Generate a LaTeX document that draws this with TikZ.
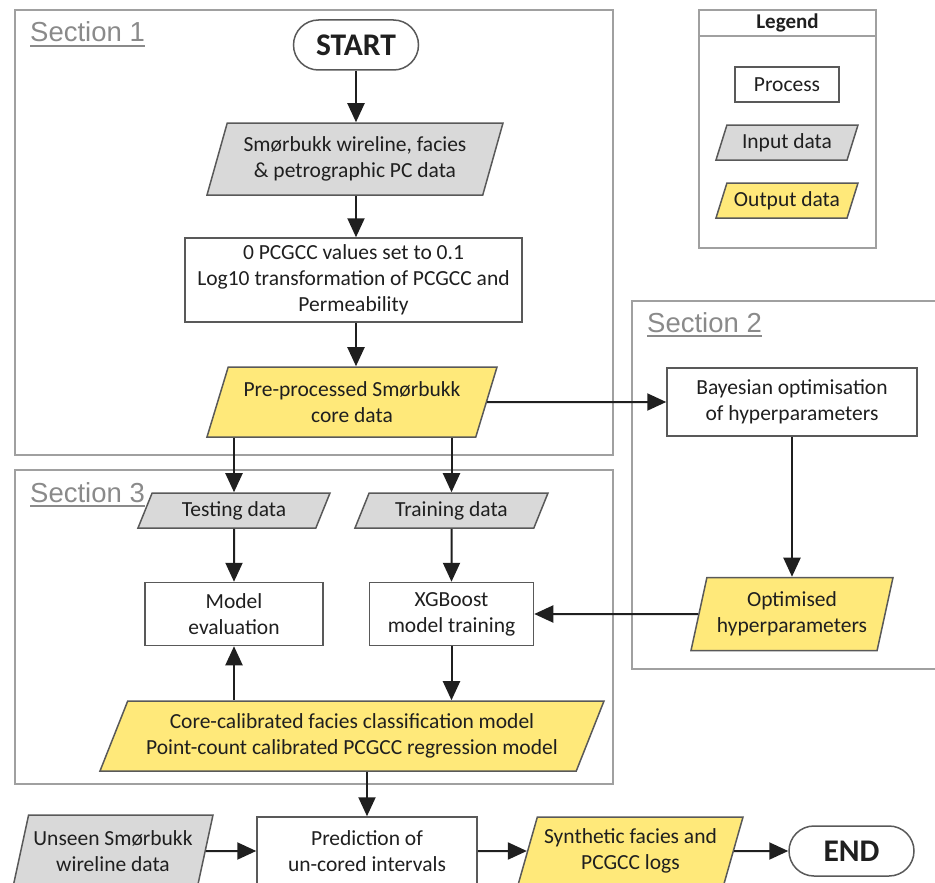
\documentclass[tikz,border=0pt]{standalone}
\usepackage{fontspec}
\setmainfont{Carlito}
\newfontfamily\secfont{Liberation Sans}
\usetikzlibrary{shapes.geometric,arrows.meta}
\definecolor{yel}{HTML}{FFE97A}
\definecolor{gry}{HTML}{D9D9D9}
\definecolor{edgec}{HTML}{595959}
\definecolor{secc}{HTML}{A0A0A0}
\definecolor{ink}{HTML}{1F1F1F}
\definecolor{lblc}{HTML}{8A8A8A}
\begin{document}
\begin{tikzpicture}[x=1pt,y={(0pt,-1pt)},
  base/.style={font=\fontsize{21.5}{26}\selectfont, text=ink, draw=edgec, line width=1.5pt, align=center, inner sep=2pt},
  procbox/.style={base, rectangle, fill=white},
  para/.style={base, trapezium, trapezium stretches body},
  ingry/.style={para, fill=gry},
  outyel/.style={para, fill=yel},
  term/.style={base, rectangle, rounded corners=25pt, minimum width=125pt, minimum height=50pt, font=\fontsize{31.5}{31.5}\selectfont\bfseries, fill=white},
  arr/.style={draw=ink, line width=2pt, -{Triangle[length=19pt,width=17pt]}},
  secbox/.style={draw=secc, line width=2pt},
  seclbl/.style={font=\secfont\fontsize{27.5}{27.5}\selectfont, text=lblc, inner sep=0pt, anchor=base west},
  secline/.style={draw=lblc, line width=1.2pt}
]
\useasboundingbox (0,0) rectangle (935,883);
% section frames
\draw[secbox] (15,10) rectangle (613,455);
\draw[secbox] (632,301) rectangle (950,669);
\draw[secbox] (15,470) rectangle (613,784);
% legend
\draw[secbox] (699,10) rectangle (876,248);
\draw[secbox] (699,36) -- (876,36);
\node[font=\fontsize{21}{21}\selectfont\bfseries, text=ink, inner sep=0pt] (legt) at (787.5,23) {Legend};
\node[procbox, minimum width=104pt, minimum height=35pt] (lproc) at (787,84.5) {Process};
\node[ingry, minimum width=142pt, minimum height=35pt, trapezium left angle=64, trapezium right angle=116] (lin) at (787,142.5) {Input data};
\node[outyel, minimum width=142pt, minimum height=35pt, trapezium left angle=64, trapezium right angle=116] (lout) at (787,200.5) {Output data};
% section labels
\node[seclbl] (s1) at (30,42) {Section 1};
\draw[secline] ([yshift=-4pt]s1.base west) -- ([yshift=-4pt]s1.base east);
\node[seclbl] (s2) at (647,332) {Section 2};
\draw[secline] ([yshift=-4pt]s2.base west) -- ([yshift=-4pt]s2.base east);
\node[seclbl] (s3) at (30,502) {Section 3};
\draw[secline] ([yshift=-4pt]s3.base west) -- ([yshift=-4pt]s3.base east);
% nodes
\node[term] (start) at (356,45) {START};
\node[ingry, minimum width=296pt, minimum height=72pt, trapezium left angle=67.4, trapezium right angle=112.6] (in1) at (355,159) {Smørbukk wireline, facies\\\& petrographic PC data};
\node[procbox, minimum width=337pt, minimum height=84pt] (proc) at (353.5,280) {0 PCGCC values set to 0.1\\Log10 transformation of PCGCC and\\Permeability};
\node[outyel, minimum width=290pt, minimum height=70pt, trapezium left angle=64.8, trapezium right angle=115.2] (out1) at (352,402) {Pre-processed Smørbukk\\core data};
\node[procbox, minimum width=250pt, minimum height=68pt] (bay) at (792,402) {Bayesian optimisation\\of hyperparameters};
\node[outyel, minimum width=202pt, minimum height=73pt, trapezium left angle=71.8, trapezium right angle=108.2] (opt) at (792,614) {Optimised\\hyperparameters};
\node[ingry, minimum width=192pt, minimum height=35pt, trapezium left angle=58, trapezium right angle=122] (test) at (234,510.5) {Testing data};
\node[ingry, minimum width=193pt, minimum height=35pt, trapezium left angle=58, trapezium right angle=122] (train) at (451.5,510.5) {Training data};
\node[procbox, minimum width=178pt, minimum height=63pt] (model) at (234,614) {Model\\evaluation};
\node[procbox, minimum width=164pt, minimum height=63pt] (xgb) at (451.5,614) {XGBoost\\model training};
\node[outyel, minimum width=504pt, minimum height=70pt, trapezium left angle=60.3, trapezium right angle=119.7] (big) at (352,736) {Core-calibrated facies classification model\\Point-count calibrated PCGCC regression model};
\node[ingry, minimum width=200pt, minimum height=72pt, trapezium left angle=70.9, trapezium right angle=109.1] (unseen) at (113,851) {Unseen Smørbukk\\wireline data};
\node[procbox, minimum width=220pt, minimum height=68pt] (pred) at (367,851) {Prediction of\\un-cored intervals};
\node[outyel, minimum width=225pt, minimum height=68pt, trapezium left angle=68.3, trapezium right angle=111.7] (synth) at (630.5,851) {Synthetic facies and\\PCGCC logs};
\node[term] (endn) at (851.5,851) {END};
% connectors
\draw[arr] (start.south) -- (start.south |- in1.north);
\draw[arr] (start.south |- in1.south) -- (start.south |- proc.north);
\draw[arr] (start.south |- proc.south) -- (start.south |- out1.north);
\draw[arr] (out1) -- (bay);
\draw[arr] (bay) -- (opt);
\draw[arr] (opt) -- (xgb);
\draw[arr] (test.north |- out1.south) -- (test.north);
\draw[arr] (train.north |- out1.south) -- (train.north);
\draw[arr] (test) -- (model);
\draw[arr] (train) -- (xgb);
\draw[arr] (xgb.south) -- (xgb.south |- big.north);
\draw[arr] (model.south |- big.north) -- (model.south);
\draw[arr] (pred.north |- big.south) -- (pred.north);
\draw[arr] (unseen) -- (pred);
\draw[arr] (pred) -- (synth);
\draw[arr] (synth) -- (endn);
\end{tikzpicture}
\end{document}
